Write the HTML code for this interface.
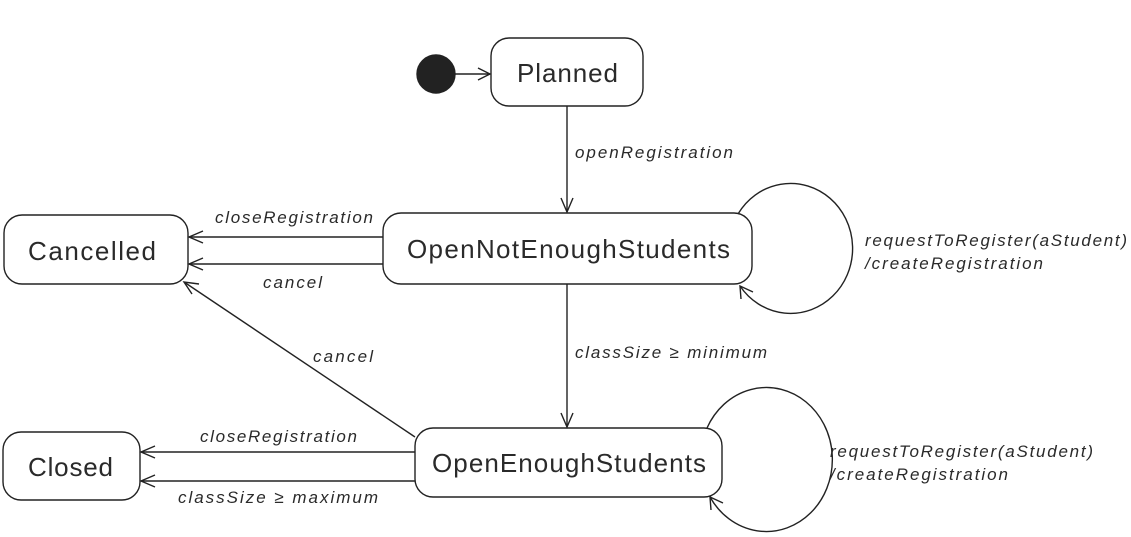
<!DOCTYPE html>
<html><head><meta charset="utf-8"><style>
body{margin:0;background:#fff}
svg{display:block}
text{font-family:"Liberation Sans",sans-serif;fill:#2a2a2a}
.s{font-size:26px}
.l{font-size:17px;font-style:italic}
</style></head><body>
<svg width="1131" height="537" viewBox="0 0 1131 537" fill="none" stroke="#222" stroke-width="1.4">
<circle cx="436" cy="74" r="19" fill="#222"/>
<line x1="455" y1="74" x2="490" y2="74"/><polyline points="478,68 490,74 478,80"/>
<rect x="491" y="38" width="152" height="68" rx="18"/>
<rect x="383" y="213" width="369" height="71" rx="18"/>
<rect x="4" y="215" width="184" height="69" rx="18"/>
<rect x="415" y="428" width="307" height="69" rx="18"/>
<rect x="3" y="432" width="137" height="68" rx="18"/>
<line x1="567" y1="106" x2="567" y2="212"/><polyline points="561,198 567,212 573,198"/>
<line x1="567" y1="284" x2="567" y2="427"/><polyline points="561,413 567,427 573,413"/>
<line x1="383" y1="237" x2="189" y2="237"/><polyline points="203,231 189,237 203,243"/>
<line x1="383" y1="264" x2="189" y2="264"/><polyline points="203,258 189,264 203,270"/>
<line x1="415" y1="452" x2="141" y2="452"/><polyline points="155,446 141,452 155,458"/>
<line x1="415" y1="481" x2="141" y2="481"/><polyline points="155,475 141,481 155,487"/>
<line x1="415" y1="437" x2="184" y2="282"/><polyline points="192,294 184,282 199,284"/>
<path d="M738,214 A62,65 0 1 1 740,286"/><polyline points="741,299 740,286 753,292"/>
<path d="M707,428 A66,72 0 1 1 710,497"/><polyline points="711,510 710,497 723,503"/>
<g stroke="none">
<text class="s" x="517" y="82" textLength="101">Planned</text>
<text class="s" x="407" y="258" textLength="323">OpenNotEnoughStudents</text>
<text class="s" x="28" y="260" textLength="128">Cancelled</text>
<text class="s" x="432" y="472" textLength="274">OpenEnoughStudents</text>
<text class="s" x="28" y="476" textLength="85">Closed</text>
<text class="l" x="575" y="158" textLength="158">openRegistration</text>
<text class="l" x="215" y="223" textLength="158">closeRegistration</text>
<text class="l" x="263" y="288" textLength="59">cancel</text>
<text class="l" x="313" y="362" textLength="60">cancel</text>
<text class="l" x="575" y="358" textLength="192">classSize ≥ minimum</text>
<text class="l" x="200" y="442" textLength="157">closeRegistration</text>
<text class="l" x="178" y="503" textLength="200">classSize ≥ maximum</text>
<text class="l" x="865" y="246" textLength="262">requestToRegister(aStudent)</text>
<text class="l" x="865" y="269" textLength="178">/createRegistration</text>
<text class="l" x="830" y="457" textLength="263">requestToRegister(aStudent)</text>
<text class="l" x="830" y="480" textLength="178">/createRegistration</text>
</g>
</svg>
</body></html>
